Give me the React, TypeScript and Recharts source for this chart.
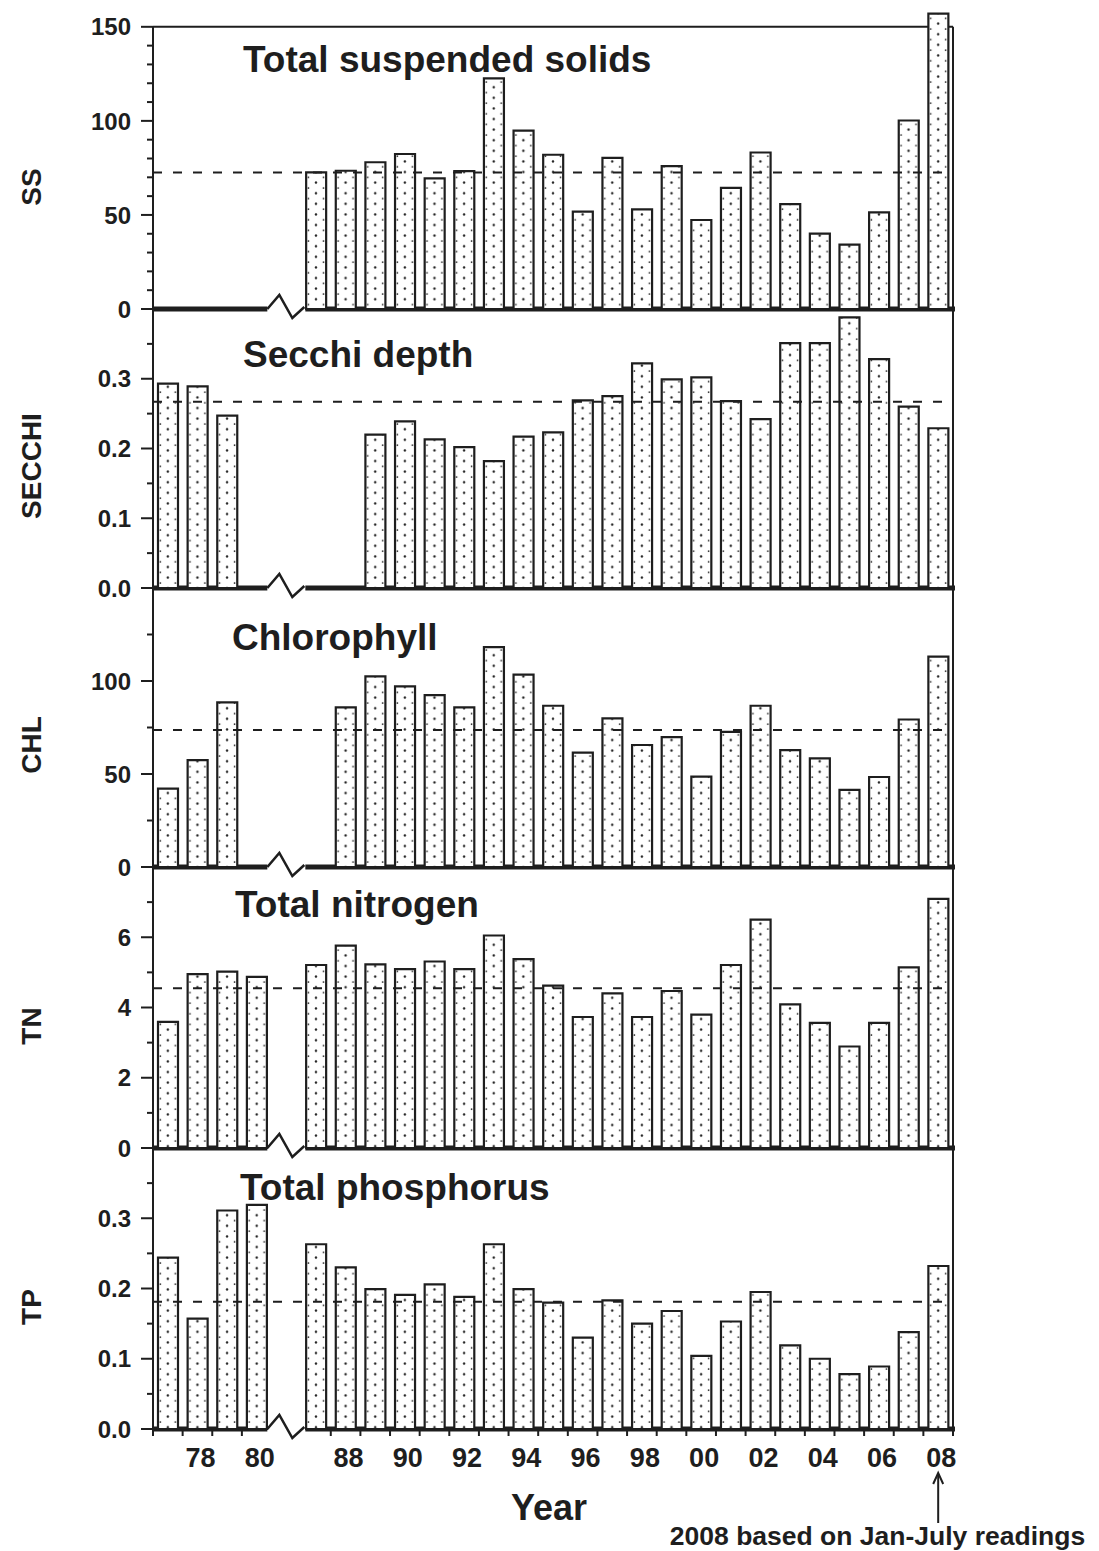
import React from 'react';
import { BarChart, Bar, XAxis, YAxis, ReferenceLine, ReferenceArea } from 'recharts';

// 연도 (빈 칸 = 축 끊김 자리)
const YEARS = ['77', '78', '79', '80', '', '87', '88', '89', '90', '91', '92', '93', '94', '95', '96', '97', '98', '99', '00', '01', '02', '03', '04', '05', '06', '07', '08'];

// 각 지표 값 (null = 자료 없음)
const SS = [null, null, null, null, null, 72.6, 73.5, 78, 82.4, 69.4, 73.3, 122.6, 94.8, 82, 51.8, 80.3, 53, 76, 47.3, 64.4, 83.2, 55.7, 40.1, 34.2, 51.4, 100.2, 157];
const SECCHI = [0.293, 0.289, 0.247, null, null, null, null, 0.22, 0.239, 0.213, 0.202, 0.182, 0.217, 0.223, 0.269, 0.275, 0.322, 0.299, 0.302, 0.268, 0.242, 0.351, 0.351, 0.388, 0.328, 0.26, 0.229];
const CHL = [42.1, 57.5, 88.5, null, null, null, 85.8, 102.5, 97.1, 92.4, 85.8, 118.2, 103.4, 86.7, 61.5, 79.9, 65.6, 69.8, 48.6, 72.6, 86.7, 62.8, 58.4, 41.5, 48.4, 79.3, 113.1];
const TN = [3.59, 4.95, 5.02, 4.87, null, 5.21, 5.76, 5.23, 5.09, 5.31, 5.09, 6.05, 5.38, 4.62, 3.73, 4.4, 3.73, 4.47, 3.8, 5.21, 6.5, 4.09, 3.56, 2.89, 3.56, 5.14, 7.09];
const TP = [0.244, 0.157, 0.311, 0.319, null, 0.263, 0.23, 0.199, 0.191, 0.206, 0.188, 0.263, 0.199, 0.18, 0.13, 0.183, 0.15, 0.168, 0.104, 0.153, 0.195, 0.119, 0.1, 0.078, 0.089, 0.138, 0.232];

// 평균선 값
const SS_MEAN = 72.5;
const SECCHI_MEAN = 0.267;
const CHL_MEAN = 73.7;
const TN_MEAN = 4.55;
const TP_MEAN = 0.181;

// 눈금 (전체 / 숫자 표시)
const SS_TICKS = [0, 10, 20, 30, 40, 50, 60, 70, 80, 90, 100, 110, 120, 130, 140, 150];
const SS_LABELS = [0, 50, 100, 150];
const SECCHI_TICKS = [0, 0.05, 0.1, 0.15, 0.2, 0.25, 0.3, 0.35];
const SECCHI_LABELS = [0, 0.1, 0.2, 0.3];
const CHL_TICKS = [0, 25, 50, 75, 100, 125];
const CHL_LABELS = [0, 50, 100];
const TN_TICKS = [0, 1, 2, 3, 4, 5, 6, 7];
const TN_LABELS = [0, 2, 4, 6];
const TP_TICKS = [0, 0.05, 0.1, 0.15, 0.2, 0.25, 0.3, 0.35];
const TP_LABELS = [0, 0.1, 0.2, 0.3];

const rows = YEARS.map((year, i) => ({
  year,
  ss: SS[i],
  secchi: SECCHI[i],
  chl: CHL[i],
  tn: TN[i],
  tp: TP[i],
}));

const INK = '#1e1e1e';
const FONT = '"Liberation Sans", Arial, Helvetica, sans-serif';
const W = 1099;
const LEFT = 153;
const RIGHT = 146;
const PLOT_W = W - LEFT - RIGHT;
const BAND = PLOT_W / YEARS.length;
const GAP = YEARS.indexOf('');

// 테두리 + 끊김 표시가 있는 굵은 x축
const makeFrame = (withTop: boolean) => (p: any) => {
  const { x, y, width, height } = p;
  const bottom = y + height;
  const c = x + width * (GAP + 0.5) / YEARS.length;
  return (
    <g>
      <line x1={x} y1={y} x2={x} y2={bottom} stroke={INK} strokeWidth={2} />
      <line x1={x + width} y1={y} x2={x + width} y2={bottom} stroke={INK} strokeWidth={2} />
      {withTop && <line x1={x} y1={y} x2={x + width} y2={y} stroke={INK} strokeWidth={2} />}
      <line x1={x - 1} y1={bottom} x2={c - 19} y2={bottom} stroke={INK} strokeWidth={5} />
      <polyline
        points={`${c - 19},${bottom} ${c - 7},${bottom - 14} ${c + 6},${bottom + 9} ${c + 18},${bottom - 2}`}
        fill="none"
        stroke={INK}
        strokeWidth={2.5}
      />
      <line x1={c + 19} y1={bottom} x2={x + width + 2} y2={bottom} stroke={INK} strokeWidth={5} />
    </g>
  );
};

const YTick = (props: any) => {
  const { x, y, payload, labels, digits } = props;
  const v = payload.value;
  const major = labels.some((m: number) => Math.abs(m - v) < 1e-9);
  return (
    <g>
      <line x1={x - (major ? 12 : 6)} y1={y} x2={x} y2={y} stroke={INK} strokeWidth={2} />
      {major && (
        <text x={x - 22} y={y} dy="0.36em" textAnchor="end" fontSize={24} fontWeight="bold" fill={INK} fontFamily={FONT}>
          {v.toFixed(digits)}
        </text>
      )}
    </g>
  );
};

const XTick = (props: any) => {
  const { x, y, payload } = props;
  const year = String(payload.value);
  const half = BAND / 2;
  const showLine = year !== '' && year !== '87';
  const even = year !== '' && Number(year) % 2 === 0;
  return (
    <g>
      {showLine && <line x1={x - half} y1={y} x2={x - half} y2={y + 7} stroke={INK} strokeWidth={2} />}
      {year === '08' && <line x1={x + half} y1={y} x2={x + half} y2={y + 7} stroke={INK} strokeWidth={2} />}
      {even && (
        <text x={x + 3} y={y + 38} textAnchor="middle" fontSize={27} fontWeight="bold" fill={INK} fontFamily={FONT}>
          {year}
        </text>
      )}
      {year === '08' && (
        <g>
          <line x1={x} y1={y + 45} x2={x} y2={y + 94} stroke={INK} strokeWidth={2} />
          <polyline points={`${x - 5},${y + 55} ${x},${y + 44} ${x + 5},${y + 55}`} fill="none" stroke={INK} strokeWidth={2} />
          <text x={x + 147} y={y + 116} textAnchor="end" fontSize={26.5} fontWeight="bold" fill={INK} fontFamily={FONT}>
            2008 based on Jan-July readings
          </text>
        </g>
      )}
    </g>
  );
};

const SideLabel = (props: any) => {
  const vb = props.viewBox || { x: 83, y: 0, width: 70, height: 0 };
  const cx = vb.x - 52;
  const cy = vb.y + vb.height - 122;
  return (
    <text
      x={cx}
      y={cy}
      transform={`rotate(-90, ${cx}, ${cy})`}
      textAnchor="middle"
      dominantBaseline="central"
      fontSize={28}
      fontWeight="bold"
      fill={INK}
      fontFamily={FONT}
    >
      {props.text}
    </text>
  );
};

const YearLabel = (props: any) => {
  const vb = props.viewBox || { x: LEFT, y: 0, width: PLOT_W, height: 0 };
  return (
    <text x={vb.x + vb.width / 2 - 4} y={vb.y + 91} textAnchor="middle" fontSize={36} fontWeight="bold" fill={INK} fontFamily={FONT}>
      Year
    </text>
  );
};

interface PanelProps {
  dataKey: string;
  side: string;
  domain: [number, number];
  frameTop: number;
  ticks: number[];
  labels: number[];
  digits: number;
  mean: number;
  top: number;
  marginTop: number;
  plotH: number;
  withTop?: boolean;
  bottomAxis?: boolean;
}

const Panel: React.FC<PanelProps> = (p) => {
  const axisH = p.bottomAxis ? 120 : 0;
  const mb = p.bottomAxis ? 2 : 20;
  const h = p.marginTop + p.plotH + axisH + mb;
  return (
    <div style={{ position: 'absolute', left: 0, top: p.top }}>
      <BarChart
        width={W}
        height={h}
        data={rows}
        margin={{ top: p.marginTop, right: RIGHT, bottom: mb, left: LEFT - 70 }}
        barSize={20}
      >
        <XAxis
          dataKey="year"
          hide={!p.bottomAxis}
          interval={0}
          height={120}
          axisLine={false}
          tickLine={false}
          tickSize={0}
          tickMargin={0}
          tick={(tp: any) => <XTick {...tp} />}
          label={<YearLabel />}
        />
        <YAxis
          domain={p.domain}
          ticks={p.ticks}
          interval={0}
          width={70}
          axisLine={false}
          tickLine={false}
          tickSize={0}
          tickMargin={0}
          tick={(tp: any) => <YTick {...tp} labels={p.labels} digits={p.digits} />}
          label={<SideLabel text={p.side} />}
        />
        <ReferenceArea y1={0} y2={p.frameTop} shape={makeFrame(!!p.withTop)} />
        <Bar
          dataKey={p.dataKey}
          fill="url(#dots)"
          stroke={INK}
          strokeWidth={2.2}
          isAnimationActive={false}
        />
        <ReferenceLine y={p.mean} stroke={INK} strokeWidth={2} strokeDasharray="9 11" />
      </BarChart>
    </div>
  );
};

const TITLES = [
  { text: 'Total suspended solids', x: 243, y: 72 },
  { text: 'Secchi depth', x: 243, y: 367 },
  { text: 'Chlorophyll', x: 232, y: 650 },
  { text: 'Total nitrogen', x: 235, y: 917 },
  { text: 'Total phosphorus', x: 240, y: 1200 },
];

const App: React.FC = () => {
  return (
    <div style={{ position: 'absolute', left: 0, top: 0, width: W, height: 1551, background: '#fff', fontFamily: FONT }}>
      <Panel dataKey="ss" side="SS" domain={[0, 160]} frameTop={150} ticks={SS_TICKS} labels={SS_LABELS} digits={0}
        mean={SS_MEAN} top={0} marginTop={8} plotH={301} withTop />
      <Panel dataKey="secchi" side="SECCHI" domain={[0, 0.4]} frameTop={0.4} ticks={SECCHI_TICKS} labels={SECCHI_LABELS} digits={1}
        mean={SECCHI_MEAN} top={289} marginTop={20} plotH={279} />
      <Panel dataKey="chl" side="CHL" domain={[0, 150]} frameTop={150} ticks={CHL_TICKS} labels={CHL_LABELS} digits={0}
        mean={CHL_MEAN} top={568} marginTop={20} plotH={279} />
      <Panel dataKey="tn" side="TN" domain={[0, 8]} frameTop={8} ticks={TN_TICKS} labels={TN_LABELS} digits={0}
        mean={TN_MEAN} top={847} marginTop={20} plotH={281} />
      <Panel dataKey="tp" side="TP" domain={[0, 0.4]} frameTop={0.4} ticks={TP_TICKS} labels={TP_LABELS} digits={1}
        mean={TP_MEAN} top={1128} marginTop={20} plotH={281} bottomAxis />
      {/* 제목 + 점무늬 패턴 */}
      <svg width={W} height={1551} style={{ position: 'absolute', left: 0, top: 0, pointerEvents: 'none' }}>
        <defs>
          <pattern id="dots" x={LEFT} y={0} width={BAND} height={10.6} patternUnits="userSpaceOnUse">
            <rect width={BAND} height={10.6} fill="#fff" />
            <circle cx={BAND / 2} cy={2.5} r={1.2} fill={INK} />
            <circle cx={BAND / 2 - 7.5} cy={7.8} r={0.9} fill={INK} />
            <circle cx={BAND / 2 + 7.5} cy={7.8} r={0.9} fill={INK} />
          </pattern>
        </defs>
        {TITLES.map((t) => (
          <text key={t.text} x={t.x} y={t.y} fontSize={37} fontWeight="bold" fill={INK} fontFamily={FONT}>
            {t.text}
          </text>
        ))}
      </svg>
    </div>
  );
};

export default App;
